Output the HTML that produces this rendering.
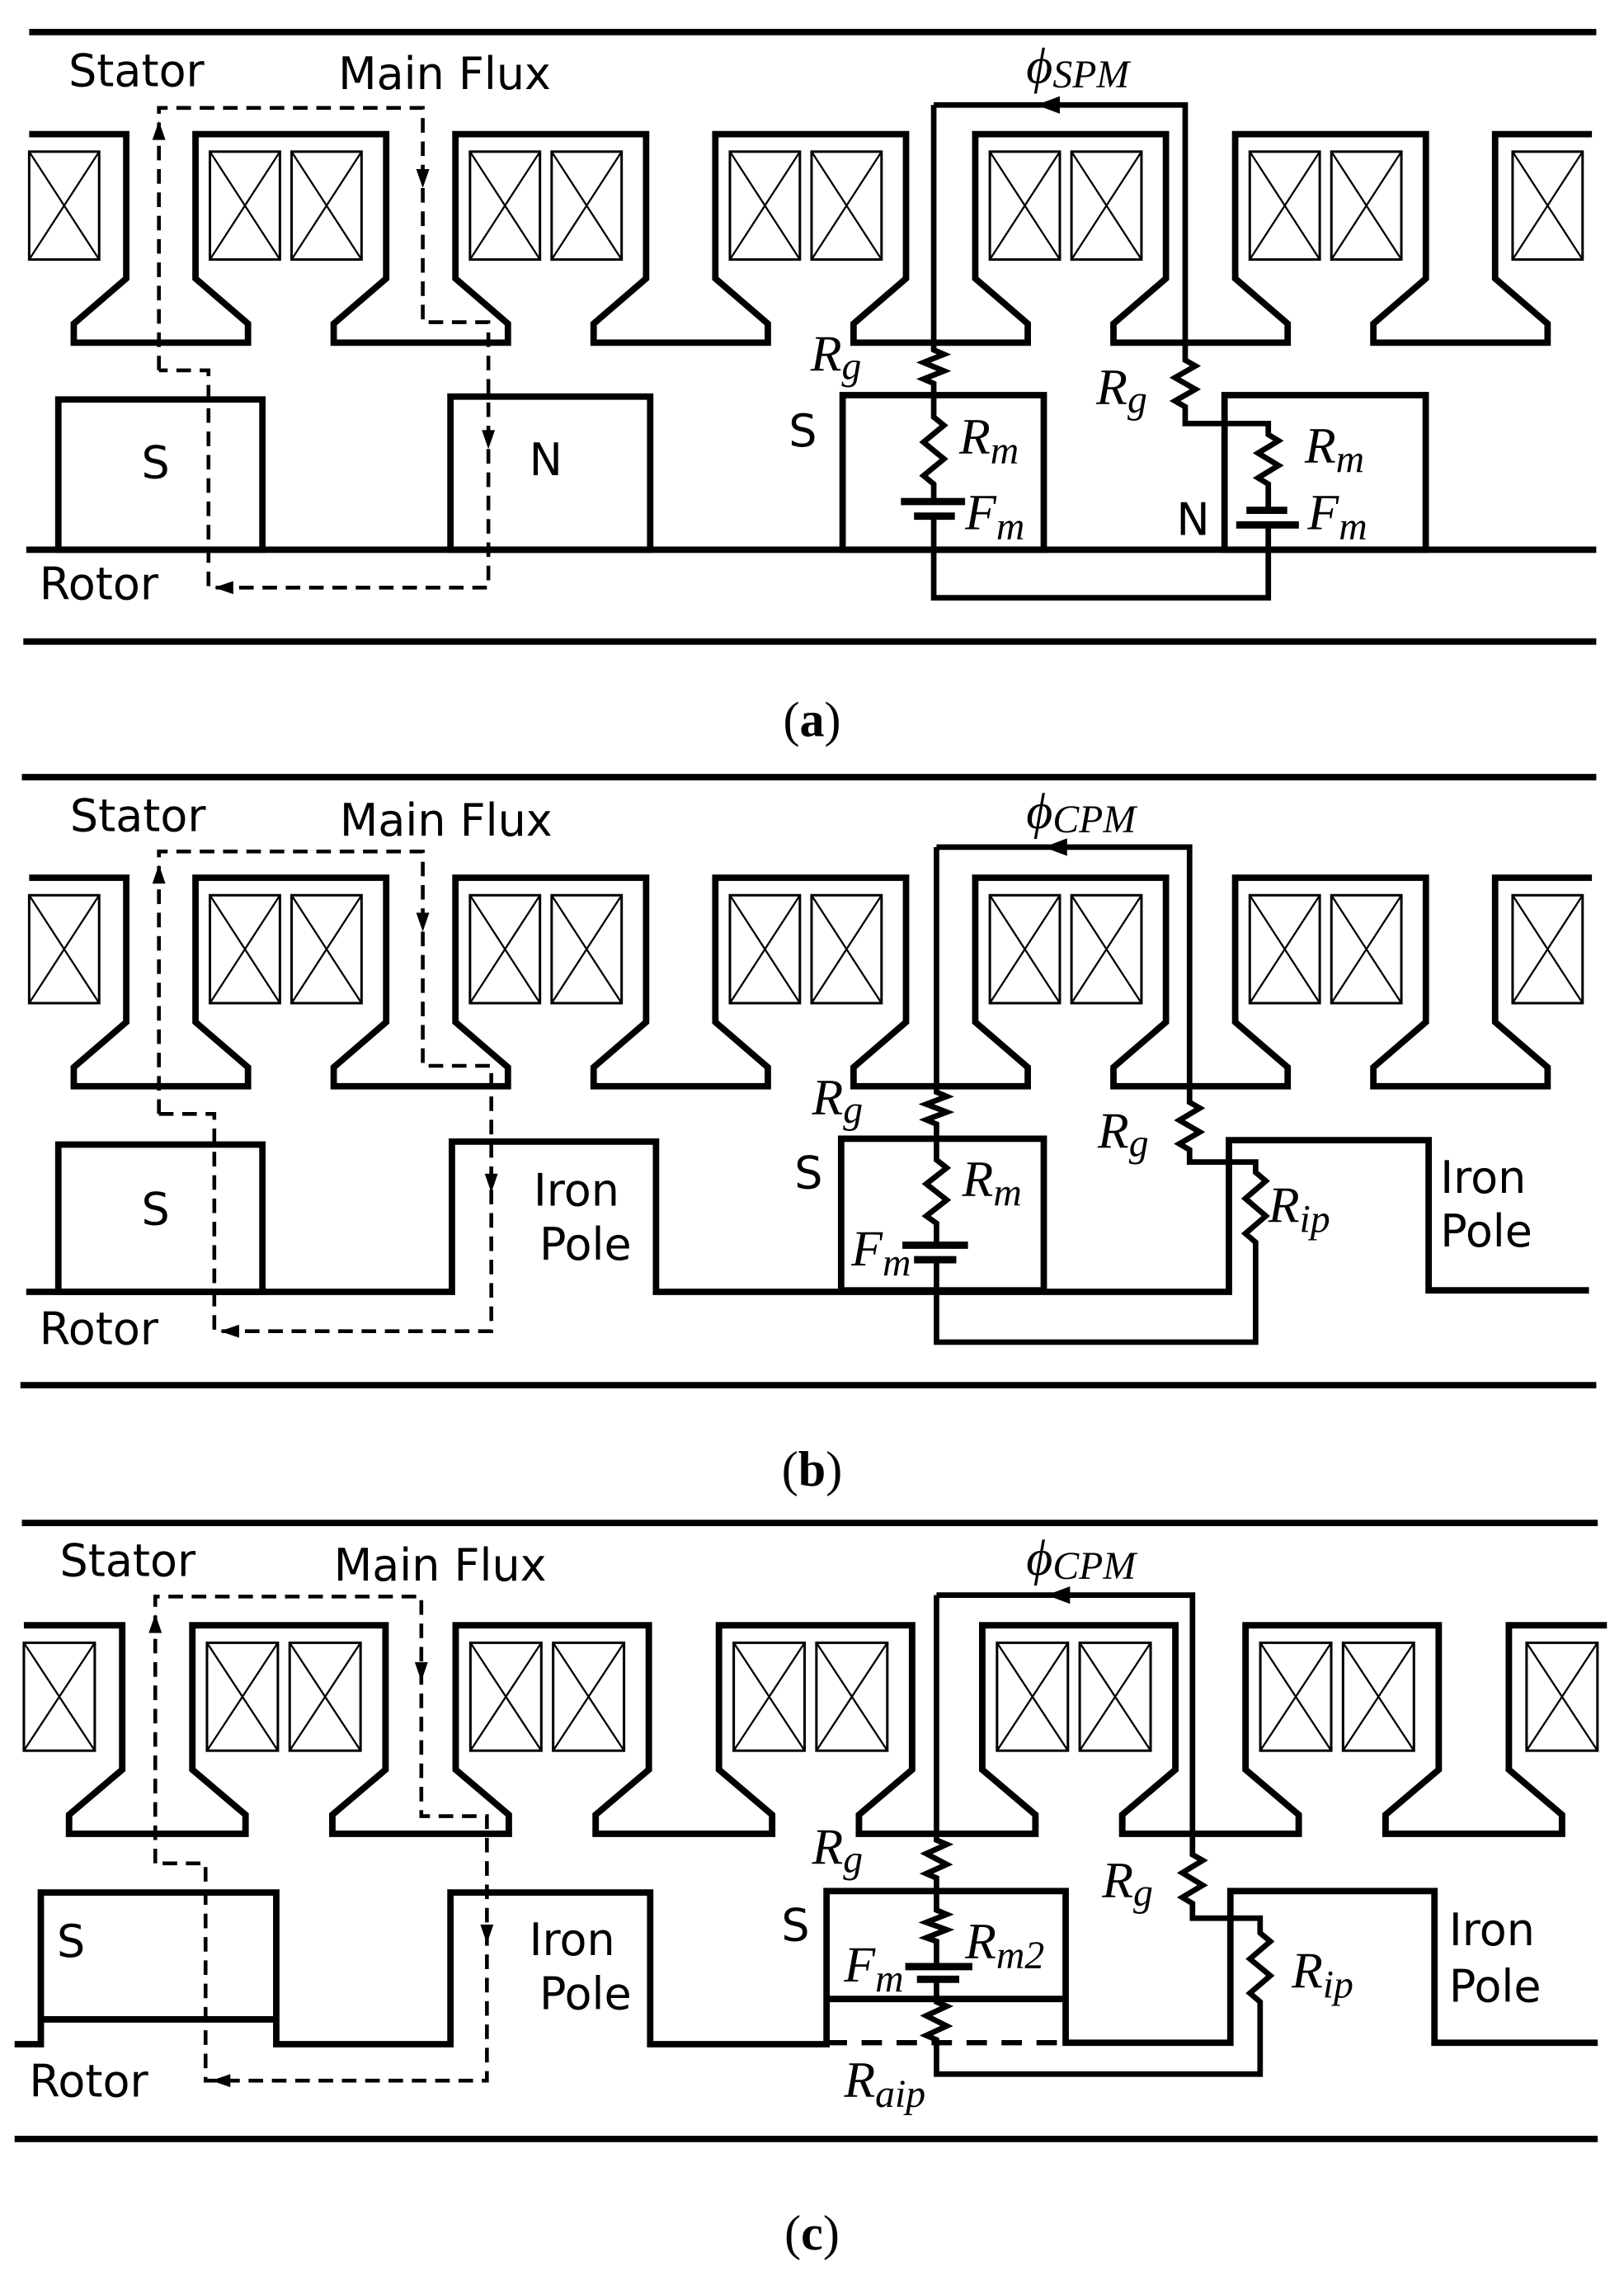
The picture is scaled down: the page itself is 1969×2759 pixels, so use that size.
<!DOCTYPE html>
<html><head><meta charset="utf-8"><style>
html,body{margin:0;padding:0;background:#fff}
svg{display:block}
.t{font-family:"DejaVu Sans","Liberation Sans",sans-serif;font-size:30.5px;fill:#000}
.m{font-family:"Liberation Serif",serif;font-style:italic;font-size:35px;fill:#000}
.s{font-size:27px}
.cap{font-family:"Liberation Serif",serif;font-size:34px;fill:#000}
</style></head><body>
<svg width="1969" height="2759" viewBox="0 0 1114 1561" xmlns="http://www.w3.org/2000/svg">
<defs>
<g id="coil"><rect x="0" y="104" width="48" height="74" fill="none" stroke="#000" stroke-width="1.7"/><path d="M0,104 L48,178 M48,104 L0,178" stroke="#000" stroke-width="1.3"/></g>
<g id="stator">
<path d="M20,92 H86.6 V191 L50.6,222 V235 H170.1 V222 L134.1,191 V92 H264.9 V191 L228.9,222 V235 H348.4 V222 L312.4,191 V92 H443.2 V191 L407.2,222 V235 H526.7 V222 L490.7,191 V92 H621.5 V191 L585.5,222 V235 H705 V222 L669,191 V92 H799.8 V191 L763.8,222 V235 H883.3 V222 L847.3,191 V92 H978.1 V191 L942.1,222 V235 H1061.6 V222 L1025.6,191 V92 H1092" fill="none" stroke="#000" stroke-width="4.4" stroke-linejoin="miter"/>
<use href="#coil" x="20"/>
<use href="#coil" x="144"/><use href="#coil" x="200"/>
<use href="#coil" x="322.4"/><use href="#coil" x="378.4"/>
<use href="#coil" x="500.7"/><use href="#coil" x="556.7"/>
<use href="#coil" x="679"/><use href="#coil" x="735"/>
<use href="#coil" x="857.3"/><use href="#coil" x="913.3"/>
<use href="#coil" x="1037.6"/>
</g>
</defs>

<g stroke="#000" fill="none">
<!-- ============ PANEL A ============ -->
<path d="M20,22 H1095 M16,440 H1095" stroke-width="4.4"/>
<use href="#stator"/>
<path d="M18,377 H1095" stroke-width="4.4"/>
<rect x="40" y="274" width="140" height="103" stroke-width="4.4"/>
<rect x="309" y="272" width="137" height="105" stroke-width="4.4"/>
<rect x="578" y="271" width="138" height="106" stroke-width="4.4"/>
<rect x="840" y="271" width="138" height="106" stroke-width="4.4"/>
<path d="M109,254 V74 H290 V221 H335 V403 H143 V254 H109" stroke-width="2.6" stroke-dasharray="10,6"/>
<path d="M640.5,72 V240 L647.5,243 L633.5,248.6 L647.5,254.4 L633.5,260 L640.5,263 V286 L647.5,291.75 L633.5,303.25 L647.5,314.75 L633.5,326.25 L640.5,332 V344 M640.5,354 V410 H870 V360 M870,350 V332 L863,327.75 L877,319.25 L863,310.75 L877,302.25 L870,298 V290.5 H813 V279 L806,275 L820,267 L806,259 L820,251 L813,247 V72 H640.5" stroke-width="3.8"/>
<path d="M618,344 H662 M627,354 H655 M855,350 H883 M848,360 H891" stroke-width="5"/>

<!-- ============ PANEL B ============ -->
<path d="M15,533 H1095 M14,950 H1095" stroke-width="4.4"/>
<use href="#stator" transform="translate(0,510)"/>
<path d="M18,886 H310 V783 H450 V886 H843 V782 H980 V885 H1090" stroke-width="4.4"/>
<rect x="40" y="785" width="140" height="101" stroke-width="4.4"/>
<rect x="577" y="781" width="139" height="104" stroke-width="4.4"/>
<path d="M109,764 V584 H290 V731 H337 V913 H147 V764 H109" stroke-width="2.6" stroke-dasharray="10,6"/>
<path d="M642.4,581 V749 L649.4,752 L635.4,757.3 L649.4,762.7 L635.4,768 L642.4,771 V795.5 L649.4,801 L635.4,812 L649.4,823 L635.4,834 L642.4,839 V854 M642.4,864 V920.5 H861.3 V852 L854.3,846 L868.3,834 L854.3,822 L868.3,810 L861.3,804 V797 H816 V788.6 L809,784.5 L823,776.4 L809,768.3 L823,760 L816,756 V581 H642.4" stroke-width="3.8"/>
<path d="M619,854 H664 M627,864 H656" stroke-width="5"/>

<!-- ============ PANEL C ============ -->
<path d="M15,1044.5 H1096 M10,1467 H1096" stroke-width="4.4"/>
<use href="#stator" transform="translate(-3.9,1022.7) scale(1.013,1)"/>
<path d="M10,1402 H28 V1298 H189.5 V1402 H309 V1298 H446 V1402 H567 V1297 H731 V1401 H844 V1297 H984 V1401 H1096 M28,1385 H189.5 M567,1371 H731" stroke-width="4.4"/>
<path d="M567,1401 H731" stroke-width="3.6" stroke-dasharray="14,10"/>
<path d="M106.5,1278 V1095 H289 V1245.6 H334 V1427 H141 V1278 H106.5" stroke-width="2.6" stroke-dasharray="10,6"/>
<path d="M642.4,1094 V1262 L649.4,1265 L635.4,1271.3 L649.4,1278.7 L635.4,1285 L642.4,1288 V1310 L649.4,1313 L635.4,1318.5 L649.4,1323.5 L635.4,1329 L642.4,1331.5 V1348.8 M642.4,1357.5 V1373 L649.4,1376 L635.4,1382.5 L649.4,1389.5 L635.4,1396 L642.4,1399 V1422.5 H864.4 V1373 L857.4,1367 L871.4,1355 L857.4,1343.5 L871.4,1331.5 L864.4,1325.7 V1315.6 H818 V1305.5 L811,1301.3 L825,1293 L811,1284.5 L825,1276 L818,1272 V1094 H642.4" stroke-width="3.8"/>
<path d="M621,1348.8 H667 M629,1357.5 H658" stroke-width="5"/>
</g>

<g fill="#000">
<path d="M109,83 L104.5,96 L113.5,96Z M290,129 L285.5,116 L294.5,116Z M335,308 L330.5,295 L339.5,295Z M147,403 L160,398.5 L160,407.5Z"/>
<path d="M109,593 L104.5,606 L113.5,606Z M290,639 L285.5,626 L294.5,626Z M337,818 L332.5,805 L341.5,805Z M151,913 L164,908.5 L164,917.5Z"/>
<path d="M106.5,1107 L102,1120 L111,1120Z M289,1153 L284.5,1140 L293.5,1140Z M334,1333 L329.5,1320 L338.5,1320Z M145,1427 L158,1422.5 L158,1431.5Z"/>
<path d="M711,72 L727,66 L727,78Z M716,581 L732,575 L732,587Z M718,1094 L734,1088 L734,1100Z"/>
</g>

<text class="t" x="47" y="59">Stator</text>
<text class="t" x="232" y="61">Main Flux</text>
<text class="t" x="97" y="328" font-size="32">S</text>
<text class="t" x="363" y="326" font-size="32">N</text>
<text class="t" x="27" y="411">Rotor</text>
<text class="t" x="541" y="306" font-size="32">S</text>
<text class="t" x="807" y="367" font-size="32">N</text>
<text class="m" x="704" y="57">ϕ<tspan class="s" dy="3">SPM</tspan></text>
<text class="m" x="556" y="254">R<tspan class="s" dy="6">g</tspan></text>
<text class="m" x="658" y="311">R<tspan class="s" dy="7">m</tspan></text>
<text class="m" x="662" y="363">F<tspan class="s" dy="7">m</tspan></text>
<text class="m" x="752" y="277">R<tspan class="s" dy="6">g</tspan></text>
<text class="m" x="895" y="317">R<tspan class="s" dy="7">m</tspan></text>
<text class="m" x="897" y="363">F<tspan class="s" dy="7">m</tspan></text>
<text class="cap" x="557" y="505" text-anchor="middle">(<tspan font-weight="bold">a</tspan>)</text>

<text class="t" x="48" y="570">Stator</text>
<text class="t" x="233" y="573">Main Flux</text>
<text class="t" x="97" y="840" font-size="32">S</text>
<text class="t" x="27" y="922">Rotor</text>
<text class="t" x="366" y="827">Iron</text>
<text class="t" x="370" y="864">Pole</text>
<text class="t" x="988" y="818">Iron</text>
<text class="t" x="988" y="855">Pole</text>
<text class="t" x="545" y="815" font-size="32">S</text>
<text class="m" x="704" y="568">ϕ<tspan class="s" dy="3">CPM</tspan></text>
<text class="m" x="557" y="764">R<tspan class="s" dy="6">g</tspan></text>
<text class="m" x="660" y="820">R<tspan class="s" dy="7">m</tspan></text>
<text class="m" x="584" y="868">F<tspan class="s" dy="7">m</tspan></text>
<text class="m" x="753" y="787">R<tspan class="s" dy="6">g</tspan></text>
<text class="m" x="870" y="838">R<tspan class="s" dy="7">ip</tspan></text>
<text class="cap" x="557" y="1019" text-anchor="middle">(<tspan font-weight="bold">b</tspan>)</text>

<text class="t" x="41" y="1081">Stator</text>
<text class="t" x="229" y="1084">Main Flux</text>
<text class="t" x="39" y="1342" font-size="32">S</text>
<text class="t" x="20" y="1438">Rotor</text>
<text class="t" x="363" y="1341">Iron</text>
<text class="t" x="370" y="1378">Pole</text>
<text class="t" x="994" y="1334">Iron</text>
<text class="t" x="994" y="1373">Pole</text>
<text class="t" x="536" y="1331" font-size="32">S</text>
<text class="m" x="704" y="1080">ϕ<tspan class="s" dy="3">CPM</tspan></text>
<text class="m" x="557" y="1278">R<tspan class="s" dy="6">g</tspan></text>
<text class="m" x="662" y="1343">R<tspan class="s" dy="7">m2</tspan></text>
<text class="m" x="579" y="1359">F<tspan class="s" dy="7">m</tspan></text>
<text class="m" x="756" y="1301">R<tspan class="s" dy="6">g</tspan></text>
<text class="m" x="886" y="1363">R<tspan class="s" dy="7">ip</tspan></text>
<text class="m" x="579" y="1438">R<tspan class="s" dy="7">aip</tspan></text>
<text class="cap" x="557" y="1543" text-anchor="middle">(<tspan font-weight="bold">c</tspan>)</text>
</svg>
</body></html>
